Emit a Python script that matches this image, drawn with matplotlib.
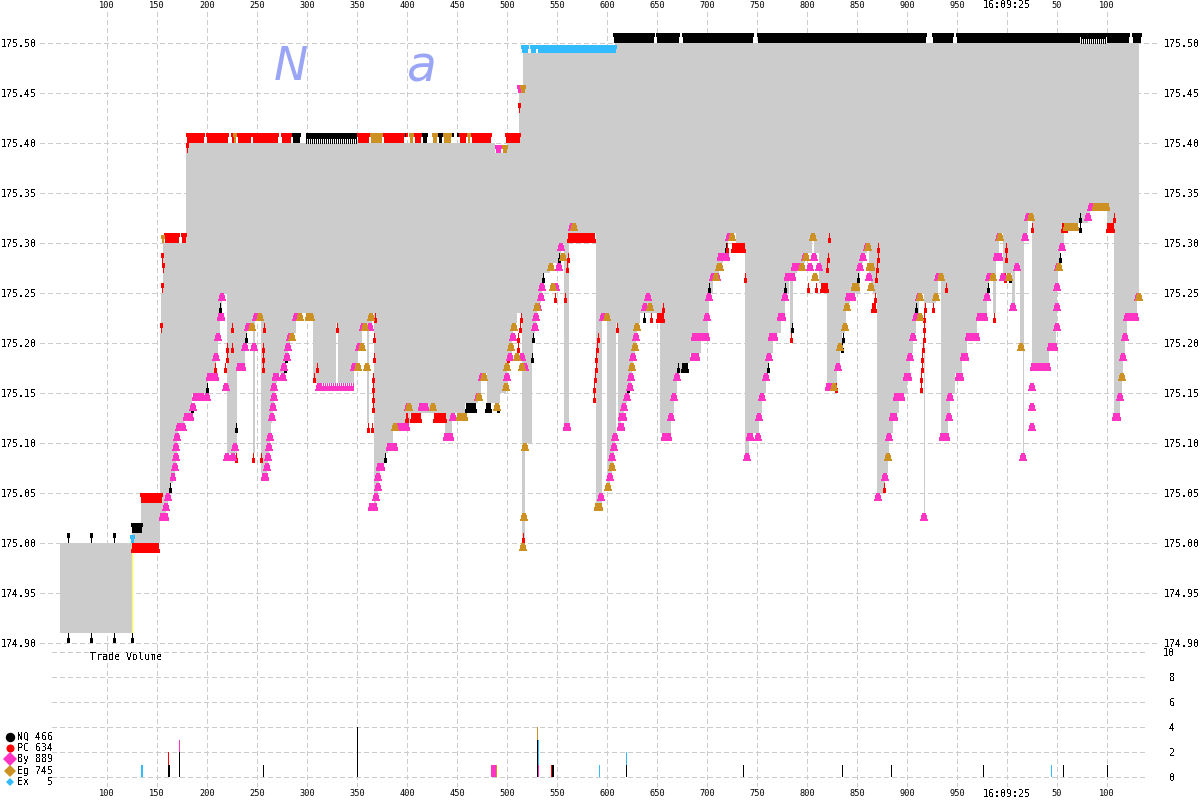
#!/usr/bin/env python

import numpy as np
import matplotlib
matplotlib.use('Agg')
import matplotlib.pyplot as plt
from matplotlib.collections import PolyCollection

# x is the sequence position as drawn, ticks are labelled below
tick_x = list(range(107, 1108, 50))
tick_labels = ['100', '150', '200', '250', '300', '350', '400', '450', '500', '550', '600',
               '650', '700', '750', '800', '850', '900', '950', '16:09:25', '50', '100']

price_ticks = [174.90, 174.95, 175.00, 175.05, 175.10, 175.15, 175.20, 175.25,
               175.30, 175.35, 175.40, 175.45, 175.50]
volume_ticks = [0, 2, 4, 6, 8, 10]

legend_names = ['NQ 466', 'PC 634', 'By 889', 'Eg 745', 'Ex   5']

# best ask, step starts
ask_x = [60, 132, 141, 160, 161, 163, 186, 495, 507, 519, 523, 615, 1139]
ask_p = [175.00, 175.01, 175.04, 175.21, 175.25, 175.30, 175.40, 175.39, 175.40, 175.45,
         175.49, 175.50, 175.50]

# best bid, step starts
bid_x = [60, 132, 160, 166, 168, 170, 173, 175, 176, 177, 178, 184, 192, 207, 216, 218, 220, 222,
         227, 237, 245, 247, 253, 255, 261, 267, 268, 269, 270, 271, 272, 273, 274, 275, 277, 285,
         287, 288, 290, 296, 313, 336, 338, 354, 358, 362, 367, 369, 372, 374, 376, 378, 379, 380,
         385, 388, 393, 410, 445, 452, 465, 478, 481, 487, 500, 506, 507, 510, 512, 513, 517, 522,
         524.5, 532, 533, 535, 536, 537, 541, 542, 543, 550, 559, 561, 564, 569, 596, 602, 607,
         610, 612, 613, 614, 615, 616, 618, 621, 624, 627, 630, 631, 632, 633, 635, 636, 637, 640,
         660, 671, 674, 677, 685, 690, 701, 708, 709, 713, 719, 723, 728, 736, 745, 749, 759, 762,
         766, 769, 773, 781, 785, 789, 790, 793, 797, 805, 812, 814, 819, 827, 837, 840, 842, 845,
         846, 850, 860, 863, 867, 869, 871, 873, 877, 885, 888, 889, 893, 899, 907, 910, 913, 916,
         919, 923.5, 925, 936, 938, 941, 948, 950, 955, 962, 967, 977, 987, 989, 993, 996, 999,
         1003, 1012, 1015, 1020, 1023, 1024, 1028, 1032, 1049, 1056, 1057, 1058, 1060, 1064, 1088,
         1090, 1107, 1114, 1120, 1122, 1123, 1125, 1127, 1137, 1139]
bid_p = [174.91, 175.00, 175.03, 175.04, 175.05, 175.06, 175.07, 175.08, 175.09, 175.11, 175.12,
         175.13, 175.15, 175.17, 175.19, 175.21, 175.23, 175.25, 175.09, 175.18, 175.20, 175.22,
         175.09, 175.23, 175.07, 175.08, 175.09, 175.10, 175.11, 175.12, 175.13, 175.14, 175.15,
         175.16, 175.17, 175.18, 175.19, 175.20, 175.21, 175.23, 175.16, 175.22, 175.16, 175.18,
         175.20, 175.22, 175.12, 175.22, 175.23, 175.04, 175.05, 175.06, 175.07, 175.08, 175.09,
         175.10, 175.12, 175.13, 175.11, 175.13, 175.14, 175.15, 175.17, 175.14, 175.15, 175.16,
         175.18, 175.19, 175.21, 175.22, 175.23, 175.00, 175.10, 175.19, 175.21, 175.22, 175.23,
         175.24, 175.25, 175.26, 175.27, 175.28, 175.28, 175.30, 175.12, 175.31, 175.04, 175.23,
         175.06, 175.07, 175.08, 175.09, 175.10, 175.11, 175.22, 175.12, 175.13, 175.14, 175.15,
         175.16, 175.17, 175.18, 175.19, 175.20, 175.21, 175.22, 175.23, 175.11, 175.13, 175.15,
         175.17, 175.18, 175.19, 175.21, 175.23, 175.25, 175.27, 175.28, 175.29, 175.31, 175.30,
         175.09, 175.11, 175.13, 175.15, 175.17, 175.19, 175.21, 175.23, 175.25, 175.27, 175.21,
         175.27, 175.28, 175.29, 175.31, 175.29, 175.26, 175.16, 175.18, 175.20, 175.21, 175.22,
         175.24, 175.25, 175.28, 175.29, 175.30, 175.27, 175.26, 175.25, 175.05, 175.07, 175.09,
         175.11, 175.13, 175.15, 175.17, 175.19, 175.21, 175.23, 175.25, 175.03, 175.24, 175.25,
         175.27, 175.11, 175.13, 175.15, 175.17, 175.19, 175.21, 175.23, 175.25, 175.27, 175.23,
         175.29, 175.31, 175.27, 175.24, 175.28, 175.20, 175.09, 175.31, 175.33, 175.18, 175.20,
         175.22, 175.26, 175.28, 175.30, 175.32, 175.33, 175.34, 175.32, 175.13, 175.15, 175.17,
         175.19, 175.21, 175.23, 175.25, 175.25]

# single quotes on the bid side: (x, price)
nq_bid = [(68, 174.91), (91, 174.91), (114, 174.91), (132, 174.91), (170, 175.06), (192, 175.14),
          (207, 175.16), (220, 175.24), (236, 175.12), (246, 175.21), (285, 175.18), (286, 175.19),
          (385, 175.09), (488, 175.14), (498, 175.14), (532, 175.19), (533, 175.21), (543, 175.27),
          (559, 175.29), (628, 175.16), (644, 175.23), (678, 175.18), (709, 175.26), (726, 175.30),
          (768, 175.18), (785, 175.26), (792, 175.22), (842, 175.20), (843, 175.21), (858, 175.27),
          (916, 175.24), (988, 175.26), (1010, 175.27), (1060, 175.29), (1080, 175.33), (1080, 175.32)]
pc_bid = [(215, 175.18), (225, 175.18), (227, 175.19), (227, 175.20), (232, 175.22), (232, 175.20),
          (236, 175.09), (253, 175.09), (264, 175.22), (263, 175.20), (263, 175.19), (263, 175.18),
          (261, 175.09), (314, 175.17), (317, 175.18), (337, 175.22), (368, 175.12), (372, 175.12),
          (375, 175.23), (374, 175.21), (374, 175.19), (373, 175.17), (373, 175.16), (373, 175.15),
          (373, 175.14), (407, 175.13), (508, 175.19), (518, 175.20), (518, 175.21), (520, 175.22),
          (521, 175.23), (523, 175.01), (555, 175.25), (565, 175.25), (568, 175.29), (567, 175.28),
          (598, 175.21), (597, 175.20), (596, 175.19), (596, 175.18), (595, 175.17), (594, 175.16),
          (594, 175.15), (617, 175.22), (651, 175.23), (663, 175.24), (727, 175.30), (745, 175.27),
          (791, 175.21), (808, 175.26), (816, 175.26), (827, 175.28), (828, 175.29), (829, 175.31),
          (836, 175.16), (874, 175.24), (875, 175.25), (876, 175.27), (877, 175.28), (878, 175.29),
          (878, 175.30), (884, 175.06), (921, 175.16), (921, 175.17), (922, 175.18), (922, 175.19),
          (923, 175.20), (924, 175.21), (924, 175.22), (924, 175.23), (925, 175.24), (933, 175.24),
          (946, 175.26), (994, 175.23), (1005, 175.27), (1006, 175.30), (1006, 175.29), (1032, 175.32),
          (1114, 175.33)]
by_bid = [(166, 175.04), (168, 175.05), (175, 175.08), (176, 175.09), (176, 175.10), (177, 175.11),
          (179, 175.12), (183, 175.12), (193, 175.14), (207, 175.15), (216, 175.19), (218, 175.21),
          (222, 175.25), (226, 175.16), (227, 175.09), (233, 175.09), (235, 175.10), (245, 175.20),
          (248, 175.22), (254, 175.20), (256, 175.23), (267, 175.08), (268, 175.09), (269, 175.10),
          (270, 175.11), (272, 175.13), (273, 175.14), (274, 175.15), (274, 175.16), (283, 175.17),
          (284, 175.18), (287, 175.19), (288, 175.20), (290, 175.21), (296, 175.23), (319, 175.16),
          (354, 175.18), (359, 175.20), (363, 175.22), (370, 175.22), (376, 175.05), (378, 175.06),
          (378, 175.07), (408, 175.14), (453, 175.13), (478, 175.15), (482, 175.17), (507, 175.17),
          (510, 175.19), (513, 175.21), (522, 175.19), (525, 175.18), (536, 175.23), (535, 175.22),
          (538, 175.24), (541, 175.25), (542, 175.26), (556, 175.26), (559, 175.28), (561, 175.30),
          (572, 175.32), (601, 175.05), (603, 175.23), (610, 175.07), (612, 175.08), (612, 175.09),
          (614, 175.10), (615, 175.11), (624, 175.14), (627, 175.15), (630, 175.16), (631, 175.17),
          (633, 175.19), (636, 175.21), (645, 175.24), (648, 175.25), (671, 175.13), (674, 175.15),
          (677, 175.17), (707, 175.23), (709, 175.25), (713, 175.27), (717, 175.27), (729, 175.31),
          (747, 175.09), (758, 175.11), (759, 175.13), (762, 175.15), (766, 175.17), (769, 175.19),
          (785, 175.25), (805, 175.29), (810, 175.28), (813, 175.31), (814, 175.29), (819, 175.28),
          (838, 175.18), (845, 175.22), (860, 175.28), (863, 175.29), (867, 175.30), (869, 175.27),
          (878, 175.05), (885, 175.07), (889, 175.11), (910, 175.19), (913, 175.21), (916, 175.23),
          (919, 175.25), (924, 175.03), (936, 175.25), (938, 175.27), (949, 175.13), (950, 175.15),
          (987, 175.25), (989, 175.27), (999, 175.31), (1003, 175.27), (1013, 175.24), (1017, 175.28),
          (1023, 175.09), (1025, 175.31), (1028, 175.33), (1032, 175.12), (1032, 175.14), (1032, 175.16),
          (1057, 175.22), (1057, 175.24), (1057, 175.26), (1058, 175.28), (1062, 175.30), (1088, 175.33),
          (1091, 175.34), (1120, 175.15), (1123, 175.19), (1125, 175.21), (1127, 175.23), (1138, 175.25)]
eg_bid = [(252, 175.22), (260, 175.23), (292, 175.21), (300, 175.23), (311, 175.23), (358, 175.18),
          (362, 175.20), (365, 175.22), (367, 175.18), (371, 175.23), (395, 175.12), (409, 175.14),
          (433, 175.14), (479, 175.15), (484, 175.17), (497, 175.14), (506, 175.16), (507, 175.18),
          (511, 175.20), (514, 175.22), (517, 175.19), (522, 175.18), (525, 175.10), (524, 175.03),
          (523, 175.00), (537, 175.24), (551, 175.28), (553, 175.26), (563, 175.29), (574, 175.32),
          (607, 175.23), (608, 175.06), (612, 175.08), (632, 175.18), (635, 175.20), (637, 175.22),
          (650, 175.24), (716, 175.27), (719, 175.28), (720, 175.28), (732, 175.31), (802, 175.28),
          (806, 175.29), (813, 175.31), (815, 175.27), (834, 175.16), (840, 175.20), (845, 175.22),
          (847, 175.24), (868, 175.30), (871, 175.26), (888, 175.09), (920, 175.23), (920, 175.25),
          (936, 175.25), (941, 175.27), (993, 175.27), (1000, 175.31), (1009, 175.27), (1021, 175.20),
          (1031, 175.33), (1059, 175.28), (1122, 175.17), (1139, 175.25)]

# runs of quotes on the bid side: (x start, x end, price)
nq_bid_runs = [(465, 477, 175.14), (485, 492, 175.14), (681, 689, 175.18)]
pc_bid_runs = [(131, 160, 175.00), (405, 408, 175.13), (410, 422, 175.13), (433, 447, 175.13),
               (567, 596, 175.31), (656, 665, 175.23), (731, 746, 175.30), (820, 829, 175.26),
               (871, 877, 175.24), (1061, 1068, 175.32), (1106, 1115, 175.32)]
by_bid_runs = [(159, 169, 175.03), (170, 176, 175.07), (183, 194, 175.13), (192, 205, 175.15),
               (206, 219, 175.17), (217, 225, 175.23), (236, 246, 175.18), (261, 269, 175.07),
               (272, 280, 175.17), (368, 378, 175.04), (376, 385, 175.08), (386, 398, 175.10),
               (393, 410, 175.12), (418, 429, 175.14), (443, 454, 175.11), (563, 571, 175.12),
               (617, 625, 175.12), (618, 627, 175.13), (661, 672, 175.11), (690, 700, 175.19),
               (691, 710, 175.21), (717, 730, 175.29), (746, 754, 175.11), (768, 778, 175.21),
               (777, 786, 175.23), (784, 796, 175.27), (791, 802, 175.28), (825, 836, 175.16),
               (845, 856, 175.25), (889, 898, 175.13), (893, 905, 175.15), (903, 912, 175.17),
               (939, 950, 175.11), (955, 964, 175.17), (960, 969, 175.19), (965, 980, 175.21),
               (976, 988, 175.23), (993, 1003, 175.29), (1030, 1051, 175.18), (1047, 1058, 175.20),
               (1112, 1121, 175.13), (1124, 1134, 175.23), (1129, 1139, 175.23)]
eg_bid_runs = [(305, 313, 175.23), (456, 468, 175.13), (594, 603, 175.04),
               (851, 860, 175.26), (866, 875, 175.28), (1063, 1079, 175.32), (1092, 1110, 175.34)]

# quotes on the ask side, drawn above the level
nq_ask = [(68, 175.00), (91, 175.00), (114, 175.00)]
pc_ask = [(161, 175.21), (162, 175.25), (163, 175.27), (162, 175.28), (187, 175.39), (519, 175.43)]
nq_ask_runs = [(131, 143, 175.01), (292, 301, 175.40), (404, 406, 175.40), (422, 428, 175.40),
               (438, 443, 175.40), (452, 454, 175.40), (457, 459, 175.40), (613, 655, 175.50),
               (656, 680, 175.50), (682, 754, 175.50), (757, 927, 175.50), (932, 954, 175.50),
               (956, 1081, 175.50), (1106, 1130, 175.50), (1132, 1142, 175.50)]
pc_ask_runs = [(140, 163, 175.04), (164, 180, 175.30), (181, 187, 175.30), (186, 205, 175.40),
               (206, 229, 175.40), (231, 236, 175.40), (237, 252, 175.40), (252, 279, 175.40),
               (281, 292, 175.40), (357, 370, 175.40), (383, 405, 175.40), (406, 408, 175.40),
               (414, 422, 175.40), (459, 467, 175.40), (471, 492, 175.40), (505, 521, 175.40)]
by_ask_runs = [(495, 502, 175.39), (517, 522, 175.45)]
eg_ask_runs = [(161, 165, 175.30), (502, 508, 175.39), (520, 526, 175.45)]
eg_ask_blocks = [(233, 237, 175.40), (370, 383, 175.40), (409, 414, 175.40), (432, 438, 175.40),
                 (443, 452, 175.40), (467, 471, 175.40)]
ex_ask_runs = [(130, 135, 175.00), (521, 529, 175.49), (530, 537, 175.49), (537, 617, 175.49)]

# stretches where single quotes are far enough apart to show as a comb
comb_ask = [(306, 357, 175.40), (1081, 1106, 175.50)]
comb_bid = [(317, 354, 175.16)]

# trade volume, stacked per sequence position
vol_x = [141, 142, 168, 169, 179, 263, 357, 491, 492, 493, 494, 495, 496, 537, 538, 551, 552, 553,
         599, 626, 743, 842, 891, 983, 1051, 1063, 1107]
vol_nq = [0, 0, 1, 1, 2, 1, 4, 0, 0, 0, 0, 0, 0, 3, 0, 0, 1, 1, 0, 1, 1, 1, 1, 1, 0, 1, 1]
vol_pc = [0, 0, 1, 0, 0, 0, 0, 0, 0, 0, 0, 0, 0, 0, 0, 1, 0, 0, 0, 0, 0, 0, 0, 0, 0, 0, 0]
vol_by = [0, 0, 0, 0, 1, 0, 0, 1, 1, 1, 1, 1, 0, 0, 1, 0, 0, 0, 0, 0, 0, 0, 0, 0, 0, 0, 0]
vol_eg = [0, 0, 0, 0, 0, 0, 0, 0, 0, 0, 0, 0, 1, 1, 0, 0, 0, 0, 0, 0, 0, 0, 0, 0, 0, 0, 0]
vol_ex = [1, 1, 0, 0, 0, 0, 0, 0, 0, 0, 0, 0, 0, 0, 2, 0, 0, 0, 1, 1, 0, 0, 0, 0, 1, 0, 0]

colors = {'NQ': '#000000', 'PC': '#ff0000', 'By': '#ff33c4', 'Eg': '#cc9122', 'Ex': '#33bbff'}
grid_color = '#cccccc'
mono = 'DejaVu Sans Mono'


def step_values(xs, ps, grid):
    return np.array(ps)[np.searchsorted(xs, grid, side='right') - 1]


def wedge(x0, x1, p, side):
    h = 0.008 * side
    return [(x0, p + h), (x1, p + h), (x1 - 0.7, p + 0.75 * h), (x1 - 2, p + 0.1 * h), (x1 - 2, p),
            (x0 + 2, p), (x0 + 2, p + 0.1 * h), (x0 + 0.7, p + 0.75 * h)]


def block(x0, x1, p, side):
    h = 0.010 * side
    return [(x0 + 1, p), (x1 - 1, p), (x1 - 1, p + 0.6 * h), (x1, p + 0.6 * h),
            (x1, p + h), (x0, p + h), (x0, p + 0.6 * h), (x0 + 1, p + 0.6 * h)]


def pin(x, p, side):
    h = 0.010 * side
    return [(x - 0.5, p), (x + 0.5, p), (x + 0.5, p + 0.5 * h), (x + 1.5, p + 0.5 * h),
            (x + 1.5, p + h), (x - 1.5, p + h), (x - 1.5, p + 0.5 * h), (x - 0.5, p + 0.5 * h)]


def add_marks(ax, polys, name, z=4):
    ax.add_collection(PolyCollection(polys, facecolors=colors[name], edgecolors='none',
                                     antialiaseds=False, zorder=z))


plt.rcParams['text.antialiased'] = False
plt.rcParams['font.family'] = mono

fig = plt.figure(figsize=(12, 8), dpi=100)
ax = fig.add_axes([40 / 1200, 152 / 800, 1120 / 1200, 638 / 800])
vol = fig.add_axes([52 / 1200, 13 / 800, 1096 / 1200, 139 / 800])

for a in (ax, vol):
    for s in a.spines.values():
        s.set_visible(False)
    a.set_axisbelow(True)
    a.grid(True, color=grid_color, linewidth=0.72, linestyle=(0, (5, 4)), antialiased=False)
    a.set_xticks(tick_x)
    a.tick_params(length=0)

ax.set_xlim(40, 1160)
ax.set_ylim(174.895, 175.533)
vol.set_xlim(52, 1148)
vol.set_ylim(-0.8, 10.32)

ax.set_yticks(price_ticks)
ax.set_yticklabels(['%.2f' % p for p in price_ticks], fontsize=7.2)
ax.tick_params(axis='y', left=True, right=True, labelleft=True, labelright=True, length=0, pad=2.6)
ax.tick_params(axis='x', top=True, bottom=False, labeltop=True, labelbottom=False, pad=0)
ax.set_xticklabels(tick_labels)

vol.set_yticks(volume_ticks)
vol.set_yticklabels(['%2d' % v for v in volume_ticks], fontsize=7.2)
vol.tick_params(axis='y', left=False, right=True, labelleft=False, labelright=True, length=0, pad=10.5)
vol.set_xticklabels(tick_labels)
vol.tick_params(axis='x', pad=1.2)

# the small numbers turn to mush without smoothing
for a in (ax, vol):
    for lab in a.get_xticklabels():
        if ':' in lab.get_text():
            lab.set_fontsize(7.2)
        else:
            lab.set_fontsize(6.2)
            lab.set_antialiased(True)

# spread
grid = np.array(sorted(set(ask_x) | set(bid_x)), dtype=float)
ax.fill_between(grid, step_values(bid_x, bid_p, grid), step_values(ask_x, ask_p, grid), step='post',
                color='#cccccc', linewidth=0, antialiased=False, zorder=2)
ax.vlines([132], 174.91, 175.00, color='#ffff55', linewidth=1, zorder=3)

ax.text(291, 175.475, 'N', family='DejaVu Sans', style='italic', fontsize=33, color='#9aa6f5',
        ha='center', va='center', zorder=1, antialiased=True)
ax.text(422, 175.475, 'a', family='DejaVu Sans', style='italic', fontsize=35, color='#9aa6f5',
        ha='center', va='center', zorder=1, antialiased=True)

# quotes
add_marks(ax, [block(a, b, p, -1) for a, b, p in nq_bid_runs] + [pin(x, p, -1) for x, p in nq_bid]
          + [block(a, b, p, 1) for a, b, p in nq_ask_runs] + [pin(x, p, 1) for x, p in nq_ask], 'NQ')
add_marks(ax, [block(a, b, p, -1) for a, b, p in pc_bid_runs] + [pin(x, p, -1) for x, p in pc_bid]
          + [block(a, b, p, 1) for a, b, p in pc_ask_runs] + [pin(x, p, 1) for x, p in pc_ask], 'PC')
add_marks(ax, [wedge(a, b, p, -1) for a, b, p in by_bid_runs]
          + [wedge(x - 3.5, x + 3.5, p, -1) for x, p in by_bid]
          + [wedge(a, b, p, 1) for a, b, p in by_ask_runs], 'By')
add_marks(ax, [wedge(a, b, p, -1) for a, b, p in eg_bid_runs]
          + [wedge(x - 3.5, x + 3.5, p, -1) for x, p in eg_bid]
          + [wedge(a, b, p, 1) for a, b, p in eg_ask_runs]
          + [block(a, b, p, 1) for a, b, p in eg_ask_blocks], 'Eg')
add_marks(ax, [wedge(a, b, p, 1) for a, b, p in ex_ask_runs], 'Ex')

for a, b, p in comb_ask:
    add_marks(ax, [[(a, p + 0.004), (b, p + 0.004), (b, p + 0.010), (a, p + 0.010)]], 'NQ', z=5)
    ax.vlines(np.arange(a, b, 2), p, p + 0.004, color='black', linewidth=0.72, antialiased=False, zorder=5)
for a, b, p in comb_bid:
    add_marks(ax, [[(a, p - 0.003), (b, p - 0.003), (b, p - 0.008), (a, p - 0.008)]], 'By', z=5)
    ax.vlines(np.arange(a, b, 2), p - 0.003, p, color=colors['By'], linewidth=0.72, antialiased=False, zorder=5)

# volume
bottom = np.zeros(len(vol_x))
for series, name in ((vol_nq, 'NQ'), (vol_pc, 'PC'), (vol_by, 'By'), (vol_eg, 'Eg'), (vol_ex, 'Ex')):
    vol.bar(vol_x, series, bottom=bottom, width=1, color=colors[name], linewidth=0,
            antialiased=False, zorder=3)
    bottom = bottom + np.array(series)

# legend, placed in figure pixels
legend_colors = [colors[n.split()[0]] for n in legend_names]
legend_shapes = ['o', 'o', 'D', 'D', 'D']
legend_sizes = [6.8, 5.8, 7.2, 6.1, 3.6]
legend_y = [737, 748, 759, 771, 782]
for name, c, m, s, y in zip(legend_names, legend_colors, legend_shapes, legend_sizes, legend_y):
    fig.add_artist(plt.Line2D([9.5 / 1200], [1 - y / 800], marker=m, markersize=s,
                              color=c, linestyle='none', markeredgewidth=0))
    fig.text(17 / 1200, 1 - y / 800, name, fontsize=7.2, va='center', ha='left')

fig.text(90 / 1200, 1 - 657 / 800, 'Trade Volume', fontsize=7.2, va='center', ha='left')

plt.savefig('out.png', dpi=100)
